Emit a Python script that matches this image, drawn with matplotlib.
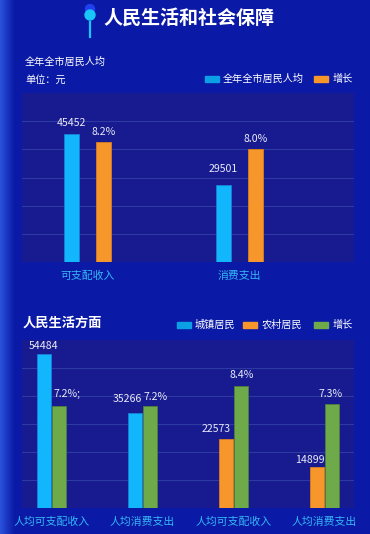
import numpy as np
import matplotlib
matplotlib.use("Agg")
import matplotlib.pyplot as plt
from matplotlib.patches import Rectangle, Circle
from matplotlib.colors import LinearSegmentedColormap

plt.rcParams['font.family'] = ['Noto Sans CJK SC', 'DejaVu Sans']

# ---- data: city-wide per capita (top chart)
top_categories = ["可支配收入", "消费支出"]
top_amount = [45452, 29501]
top_growth = [8.2, 8.0]
top_growth_labels = ["8.2%", "8.0%"]
top_legend = ["全年全市居民人均", "增长"]

# ---- data: urban / rural residents (bottom chart)
life_categories = ["人均可支配收入", "人均消费支出", "人均可支配收入", "人均消费支出"]
urban_amount = [54484, 35266, np.nan, np.nan]
rural_amount = [np.nan, np.nan, 22573, 14899]
life_growth = [7.2, 7.2, 8.4, 7.3]
life_growth_labels = ["7.2%;", "7.2%", "8.4%", "7.3%"]
life_legend = ["城镇居民", "农村居民", "增长"]

W, H = 370, 534
BG = "#0a19a6"
PANEL = "#181b90"
GRID = "#2d3aa2"
BLUE = "#12b6fc"
ORANGE = "#f7962a"
GREEN = "#6faa4a"
LABEL = "#e8eaf6"
XLABEL = "#35b8f5"


def px_box(x0, y0, x1, y1):
    return [x0 / W, 1 - y1 / H, (x1 - x0) / W, (y1 - y0) / H]


def style_axes(ax, lims, grid=False):
    ax.set_ylim(*lims)
    for s in ax.spines.values():
        s.set_visible(False)
    ax.tick_params(axis="y", length=0, labelleft=False, labelright=False)
    if grid:
        # inner grid lines only, panel edges carry no line
        ax.set_yticks(np.linspace(lims[0], lims[1], 7)[1:-1])
        ax.grid(axis="y", color=GRID, linewidth=0.8)
        ax.set_axisbelow(True)
    else:
        ax.set_yticks([])


def bar_labels(ax, xs, values, texts, offsets):
    for xi, v, t, (dx, dy) in zip(xs, values, texts, offsets):
        if np.isnan(v):
            continue
        ax.annotate(t, (xi, v), xytext=(dx, dy), textcoords="offset pixels",
                    ha="center", va="center", color=LABEL, fontsize=7.6)


fig = plt.figure(figsize=(W / 100, H / 100), dpi=100)
fig.patch.set_facecolor(BG)

# decoration layer in pixel coordinates
deco = fig.add_axes([0, 0, 1, 1])
deco.axis("off")
glow = LinearSegmentedColormap.from_list("glow", [BG, "#2a52dc"])
deco.imshow(np.linspace(0, 1, 40)[None, ::-1], extent=(0, 15, H, 0),
            cmap=glow, aspect="auto")
deco.set_xlim(0, W)
deco.set_ylim(H, 0)

deco.add_patch(Circle((90, 9), 4.5, color="#1f3ff0"))
deco.add_patch(Circle((90, 15), 5, color="#19c6f7"))
deco.plot([90, 90], [22, 37], color="#19c6f7", linewidth=1.6)
deco.text(103, 18, "人民生活和社会保障", fontsize=13.7, fontweight="bold",
          color="white", va="center", ha="left")
deco.text(25, 62, "全年全市居民人均", fontsize=7.3, color="white", va="center")
deco.text(25, 80, "单位：元", fontsize=7.3, color="white", va="center")
deco.text(22.5, 323, "人民生活方面", fontsize=9.5, fontweight="bold",
          color="white", va="center")


def legend(items, y):
    for x_box, x_text, color, label in items:
        deco.add_patch(Rectangle((x_box, y - 3.2), 13.5, 6.4, color=color))
        deco.text(x_text, y, label, fontsize=7.3, color="white", va="center")


legend([(205, 223, "#0b9fe6", top_legend[0]),
        (314, 333, ORANGE, top_legend[1])], 79)
legend([(177, 195, "#0b9fe6", life_legend[0]),
        (243, 262, ORANGE, life_legend[1]),
        (314, 333, GREEN, life_legend[2])], 325)

# ---- top chart
ax1 = fig.add_axes(px_box(22, 93, 354, 262))
ax1.set_facecolor(PANEL)
x1 = np.arange(len(top_categories))
ax1.bar(x1 - 0.105, top_amount, 0.095, color=BLUE, edgecolor="#1a7fd6", linewidth=0.6)
style_axes(ax1, (5500, 58370), grid=True)
ax1.set_xlim(-0.43, 1.753)
ax1.set_xticks(x1, top_categories)
ax1.tick_params(axis="x", length=0, pad=6.5, labelsize=7.8, labelcolor=XLABEL)
bar_labels(ax1, x1 - 0.105, top_amount, [str(v) for v in top_amount],
           [(0, 11), (0, 16)])

ax1r = ax1.twinx()
ax1r.bar(x1 + 0.105, top_growth, 0.095, color=ORANGE, edgecolor="#d9801f", linewidth=0.6)
style_axes(ax1r, (4.62, 9.66))
bar_labels(ax1r, x1 + 0.105, top_growth, top_growth_labels, [(0, 10), (0, 9.5)])

# ---- bottom chart
ax2 = fig.add_axes(px_box(22, 340, 354, 508.3))
ax2.set_facecolor(PANEL)
x2 = np.arange(len(life_categories))
ax2.bar(x2 - 0.08, urban_amount, 0.155, color=BLUE, edgecolor="#1a7fd6", linewidth=0.6)
style_axes(ax2, (3960, 59068), grid=True)
ax2.set_xlim(-0.322, 3.323)
ax2.set_xticks(x2, life_categories)
ax2.tick_params(axis="x", length=0, pad=6, labelsize=7.8, labelcolor=XLABEL)
bar_labels(ax2, x2 - 0.08, urban_amount,
           ["" if np.isnan(v) else str(int(v)) for v in urban_amount],
           [(0, 8), (-8, 13.5), (0, 0), (0, 0)])

ax2o = ax2.twinx()
ax2o.bar(x2 - 0.08, rural_amount, 0.155, color=ORANGE, edgecolor="#d9801f", linewidth=0.6)
style_axes(ax2o, (3898, 49055))
bar_labels(ax2o, x2 - 0.08, rural_amount,
           ["" if np.isnan(v) else str(int(v)) for v in rural_amount],
           [(0, 0), (0, 0), (-10, 10), (-7, 7.5)])

ax2g = ax2.twinx()
ax2g.bar(x2 + 0.08, life_growth, 0.155, color=GREEN, edgecolor="#4f7f3c", linewidth=0.6)
style_axes(ax2g, (0.95, 11.2))
bar_labels(ax2g, x2 + 0.08, life_growth, life_growth_labels,
           [(8, 11.5), (6, 8.5), (1, 11), (-1, 10.5)])

fig.savefig("out.png", dpi=100, facecolor=BG)
